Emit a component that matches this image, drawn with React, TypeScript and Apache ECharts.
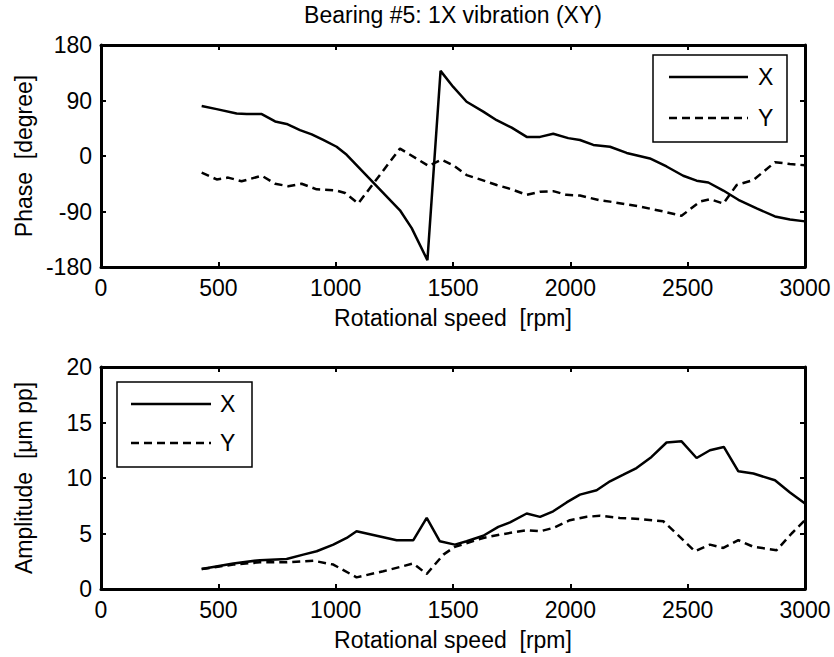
import React, { useEffect, useRef } from "react";
import * as echarts from "echarts";

const titleText = "Bearing #5: 1X vibration (XY)";
const xAxisName = "Rotational speed  [rpm]";
const phaseName = "Phase  [degree]";
const ampName = "Amplitude  [\u03bcm pp]";
const legendNames = ["X", "Y"];

// Phase, X (solid)
const phaseXrpm = [429, 493, 578, 621, 685, 742, 791, 848, 898, 947, 1004, 1047, 1274, 1324, 1391, 1447, 1501, 1558, 1629, 1686, 1750, 1814, 1871, 1927, 1991, 2041, 2098, 2169, 2240, 2339, 2410, 2481, 2538, 2588, 2652, 2716, 2794, 2872, 2936, 3000];
const phaseXval = [81, 76, 69, 68, 68, 56, 52, 42, 35, 26, 15, 2, -88, -117, -169, 138, 112, 88, 72, 58, 46, 31, 31, 36, 29, 26, 18, 15, 5, -4, -17, -32, -40, -43, -56, -71, -85, -98, -103, -106];
// Phase, Y (dashed)
const phaseYrpm = [429, 493, 542, 599, 685, 742, 798, 855, 919, 1004, 1040, 1096, 1274, 1395, 1452, 1501, 1558, 1615, 1686, 1750, 1814, 1871, 1927, 1984, 2041, 2126, 2169, 2297, 2396, 2474, 2552, 2595, 2652, 2709, 2780, 2872, 2936, 3000];
const phaseYval = [-27, -38, -35, -41, -32, -45, -49, -45, -54, -56, -60, -77, 12, -16, -6, -15, -31, -38, -47, -54, -63, -58, -57, -63, -64, -72, -74, -82, -90, -97, -74, -70, -77, -47, -39, -10, -13, -15];
// Amplitude, X (solid)
const ampXrpm = [429, 564, 677, 791, 862, 919, 990, 1047, 1089, 1260, 1331, 1388, 1444, 1508, 1558, 1629, 1693, 1743, 1814, 1871, 1927, 1984, 2041, 2112, 2169, 2226, 2282, 2346, 2410, 2474, 2538, 2595, 2654, 2716, 2780, 2872, 2936, 3000];
const ampXval = [1.8, 2.3, 2.6, 2.7, 3.1, 3.4, 4.0, 4.6, 5.2, 4.4, 4.4, 6.4, 4.3, 4.0, 4.3, 4.8, 5.6, 6.0, 6.8, 6.5, 7.0, 7.8, 8.5, 8.9, 9.7, 10.3, 10.9, 11.9, 13.2, 13.3, 11.8, 12.5, 12.8, 10.6, 10.4, 9.8, 8.7, 7.7];
// Amplitude, Y (dashed)
const ampYrpm = [429, 564, 677, 791, 905, 990, 1089, 1203, 1331, 1388, 1459, 1508, 1629, 1700, 1814, 1871, 1927, 1998, 2070, 2126, 2211, 2297, 2396, 2452, 2531, 2595, 2652, 2716, 2780, 2879, 2943, 3000];
const ampYval = [1.8, 2.2, 2.4, 2.4, 2.55, 2.2, 1.05, 1.6, 2.3, 1.35, 3.1, 3.8, 4.6, 4.9, 5.3, 5.2, 5.5, 6.2, 6.5, 6.6, 6.4, 6.3, 6.1, 5.0, 3.4, 4.0, 3.7, 4.4, 3.8, 3.5, 5.0, 6.2];

const FONT = "'Liberation Sans', Arial, sans-serif";
const FS = 23;
const DASH = [8, 5];

const zip = (a: number[], b: number[]) => a.map((v, i) => [v, b[i]]);

export default function App() {
  const ref = useRef<HTMLDivElement>(null);
  useEffect(() => {
    if (!ref.current) return;
    const chart = echarts.init(ref.current, undefined, { renderer: "svg" });
    const gridL = 101, gridW = 704, gridH = 222;
    const tops = [45, 367];
    const axLine = { show: true, onZero: false, lineStyle: { color: "#000", width: 3 } };
    const tick = { show: true, inside: true, length: 5, lineStyle: { color: "#000", width: 2 } };
    const lbl = { color: "#000", fontSize: FS, fontFamily: FONT, margin: 9, formatter: (v: number) => String(v) };
    const mkX = (gi: number, pos: "bottom" | "top", main: boolean) => ({
      type: "value",
      gridIndex: gi,
      position: pos,
      min: 0,
      max: 3000,
      interval: 500,
      axisLine: axLine,
      axisTick: tick,
      axisLabel: main ? lbl : { show: false },
      splitLine: { show: false },
      name: main ? xAxisName : "",
      nameLocation: "middle",
      nameGap: 39,
      nameTextStyle: { color: "#000", fontSize: FS, fontFamily: FONT },
    });
    const mkY = (gi: number, pos: "left" | "right", main: boolean, min: number, max: number, interval: number, name: string) => ({
      type: "value",
      gridIndex: gi,
      position: pos,
      min,
      max,
      interval,
      axisLine: axLine,
      axisTick: tick,
      axisLabel: main ? lbl : { show: false },
      splitLine: { show: false },
      name: main ? name : "",
      nameLocation: "middle",
      nameGap: 66,
      nameTextStyle: { color: "#000", fontSize: FS, fontFamily: FONT },
    });
    const solid = { color: "#000", width: 2.5, type: "solid" };
    const dashed = { color: "#000", width: 2.5, type: DASH };
    const legendGroup = (x: number, y: number, w: number, h: number, lx1: number, lx2: number, y1: number, y2: number, tx: number) => [
      { type: "rect", shape: { x, y, width: w, height: h }, style: { fill: "#fff", stroke: "#000", lineWidth: 1.5 }, z: 100 },
      { type: "line", shape: { x1: lx1, y1, x2: lx2, y2: y1 }, style: { stroke: "#000", lineWidth: 2.5 }, z: 101 },
      { type: "line", shape: { x1: lx1, y1: y2, x2: lx2, y2 }, style: { stroke: "#000", lineWidth: 2.5, lineDash: DASH }, z: 101 },
      { type: "text", x: tx, y: y1, style: { text: legendNames[0], fill: "#000", fontSize: FS, fontFamily: FONT, align: "left", verticalAlign: "middle" }, z: 101 },
      { type: "text", x: tx, y: y2, style: { text: legendNames[1], fill: "#000", fontSize: FS, fontFamily: FONT, align: "left", verticalAlign: "middle" }, z: 101 },
    ];
    chart.setOption({
      animation: false,
      backgroundColor: "#fff",
      grid: tops.map((t) => ({ left: gridL, top: t, width: gridW, height: gridH, containLabel: false })),
      xAxis: [mkX(0, "bottom", true), mkX(1, "bottom", true), mkX(0, "top", false), mkX(1, "top", false)],
      yAxis: [
        mkY(0, "left", true, -180, 180, 90, phaseName),
        mkY(1, "left", true, 0, 20, 5, ampName),
        mkY(0, "right", false, -180, 180, 90, ""),
        mkY(1, "right", false, 0, 20, 5, ""),
      ],
      series: [
        { name: "X", type: "line", xAxisIndex: 0, yAxisIndex: 0, data: zip(phaseXrpm, phaseXval), showSymbol: false, symbol: "none", lineStyle: solid },
        { name: "Y", type: "line", xAxisIndex: 0, yAxisIndex: 0, data: zip(phaseYrpm, phaseYval), showSymbol: false, symbol: "none", lineStyle: dashed },
        { name: "X", type: "line", xAxisIndex: 1, yAxisIndex: 1, data: zip(ampXrpm, ampXval), showSymbol: false, symbol: "none", lineStyle: solid },
        { name: "Y", type: "line", xAxisIndex: 1, yAxisIndex: 1, data: zip(ampYrpm, ampYval), showSymbol: false, symbol: "none", lineStyle: dashed },
      ],
      graphic: [
        { type: "text", x: 453, y: 15, style: { text: titleText, fill: "#000", fontSize: FS, fontFamily: FONT, align: "center", verticalAlign: "middle" } },
        ...legendGroup(653, 55, 134, 87, 669, 748, 77, 118, 758),
        ...legendGroup(117, 382, 135, 85, 131, 211, 404, 443, 220),
      ],
    });
    return () => chart.dispose();
  }, []);
  return <div ref={ref} style={{ position: "fixed", left: 0, top: 0, width: 834, height: 657, background: "#fff" }} />;
}
